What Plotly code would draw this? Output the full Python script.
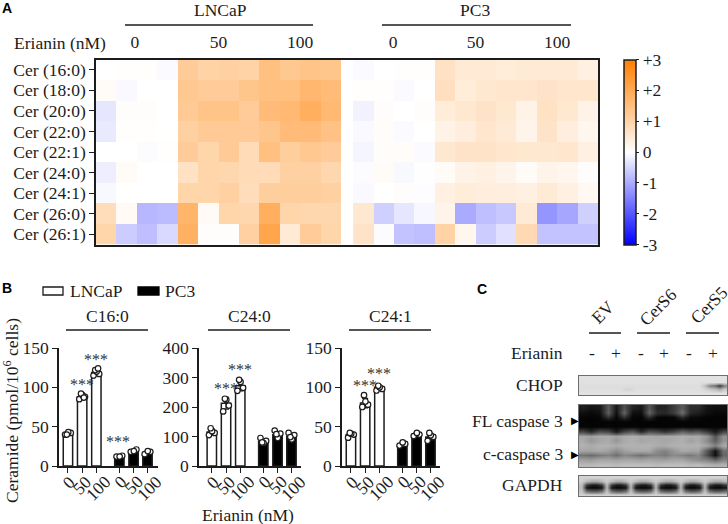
import plotly.graph_objects as go

W, H = 728, 524
SERIF = "Liberation Serif"
SANS = "Liberation Sans"
INK = "#1c1c1c"
FS = 17.5

# ---------- Panel A data ----------
ROWS = ["Cer (16:0)", "Cer (18:0)", "Cer (20:0)", "Cer (22:0)", "Cer (22:1)",
        "Cer (24:0)", "Cer (24:1)", "Cer (26:0)", "Cer (26:1)"]
LNCAP = [
    [0, 0.02, 0.02, -0.05, 1.2, 1.05, 1.1, 1.05, 1.5, 1.3, 1.4, 1.35],
    [0.08, -0.07, 0, 0, 1.3, 1.2, 1.2, 1.35, 1.5, 1.5, 1.7, 1.6],
    [-0.3, 0.05, 0.05, 0, 1.25, 1.4, 1.4, 1.2, 1.6, 1.65, 1.9, 1.65],
    [-0.25, 0.03, 0.02, 0.01, 1.1, 1.25, 1.25, 1.25, 1.35, 1.6, 1.6, 1.45],
    [0, 0, -0.04, 0.03, 1.2, 1.0, 1.25, 0.85, 1.5, 1.15, 1.3, 1.2],
    [-0.2, 0.1, 0, 0, 0.7, 1.0, 0.95, 0.85, 0.85, 1.1, 1.1, 0.95],
    [-0.08, 0.01, 0, 0, 1.0, 1.0, 1.1, 0.8, 1.15, 1.15, 1.15, 1.1],
    [0.8, 0.12, -0.85, -0.8, 1.75, 0.12, 1.0, 0.95, 1.9, 1.0, 0.95, 0.95],
    [1.0, -0.6, -0.75, -0.45, 1.85, 0.05, 0.05, 1.1, 2.1, 0.5, 1.2, 1.0],
]
PC3 = [
    [-0.06, 0, 0.03, 0.02, 0.7, 0.5, 0.5, 0.45, 0.5, 0.5, 0.5, 0.35],
    [0.02, 0.02, -0.06, 0, 0.75, 0.45, 0.55, 0.6, 0.6, 0.65, 0.6, 0.6],
    [-0.15, 0.05, 0, 0.05, 0.45, 0.55, 0.65, 0.55, 0.3, 0.7, 0.55, 0.3],
    [-0.07, 0.07, -0.06, 0, 0.3, 0.4, 0.6, 0.5, 0.25, 0.65, 0.4, 0.2],
    [-0.12, 0.04, 0.07, -0.05, 0.55, 0.65, 0.65, 0.6, 0.55, 0.55, 0.6, 0.35],
    [-0.03, 0.08, -0.08, -0.01, 0.1, 0.3, 0.35, 0.25, 0.1, 0.25, 0.2, 0.05],
    [-0.07, 0, 0.04, -0.02, 0.35, 0.45, 0.4, 0.4, 0.35, 0.5, 0.35, 0.15],
    [0.55, -0.55, -0.3, -0.1, 0.25, -1.0, -0.75, -0.65, 0.5, -1.25, -1.05, -0.55],
    [0.65, -0.03, -0.7, -0.75, 1.05, 0.2, -0.6, -0.35, 0.9, -0.7, -0.7, -0.7],
]
DOSES = ["0", "50", "100"]
COLORBAR_TICKS = [3, 2, 1, 0, -1, -2, -3]
COLORBAR_LABELS = ["+3", "+2", "+1", "0", "-1", "-2", "-3"]

# ---------- Panel B data ----------
C16_POINTS = [[40, 42, 43, 40], [85, 88, 90, 92, 87], [115, 117, 120, 122, 124],
              [12, 13, 12], [18, 21, 19], [15, 18, 19]]
C16_BARS = [41, 88, 119, 13, 19, 17]
C16_ERR = [2, 3, 4, 1, 2, 2]
C240_POINTS = [[105, 112, 118, 128], [185, 205, 225, 228], [255, 265, 285, 292],
               [95, 85, 78, 80], [120, 110, 95, 108], [112, 105, 90, 98]]
C240_BARS = [115, 213, 272, 82, 106, 100]
C240_ERR = [10, 20, 17, 8, 10, 9]
C241_POINTS = [[36, 40, 41, 42], [75, 78, 82, 90], [96, 98, 100, 102],
               [26, 28, 30], [38, 40, 42], [32, 37, 39, 42]]
C241_BARS = [40, 80, 100, 27, 40, 37]
C241_ERR = [2, 6, 2, 2, 2, 4]
BAR_POS = [0, 1, 2, 3.62, 4.62, 5.6]
BAR_LABELS = ["0", "50", "100", "0", "50", "100"]
JITTER = [-0.2, 0.2, 0.02, -0.08, 0.12]

# ---------- Panel C data (grey levels read from the blot) ----------
BG = 222
CHOP_BLOT = [
    [226] * 30,
    [224] * 30,
    [BG] * 25 + [190, 130, 110, 50, 130],
    [222] * 9 + [212, 214] + [222] * 14 + [215, 200, 190, 170, 200],
    [226] * 30,
]
CASP_BLOT = [
    [30, 20, 25, 90, 25, 80, 35, 25, 85, 35, 35, 60, 90, 45, 45, 20, 15, 15],
    [15, 10, 15, 95, 15, 100, 15, 15, 100, 45, 40, 60, 110, 40, 30, 15, 8, 8],
    [6, 4, 6, 50, 6, 50, 6, 4, 45, 6, 4, 6, 45, 10, 10, 4, 4, 4],
    [4] * 18,
    [6, 4, 4, 6, 4, 4, 6, 4, 4, 4, 4, 4, 6, 4, 4, 4, 4, 4],
    [70, 40, 80, 70, 25, 70, 90, 40, 80, 70, 50, 70, 100, 80, 90, 60, 25, 70],
    [165, 160, 170, 170, 160, 170, 175, 170, 170, 165, 170, 170, 175, 170, 170, 150, 85, 145],
    [170, 150, 165, 170, 150, 170, 175, 165, 170, 170, 165, 170, 175, 160, 170, 140, 95, 145],
    [178, 172, 178, 178, 172, 178, 178, 178, 178, 172, 172, 178, 178, 178, 178, 165, 130, 170],
    [165, 165, 170, 160, 140, 160, 170, 170, 170, 140, 130, 150, 170, 165, 165, 90, 20, 110],
    [115, 105, 120, 130, 110, 135, 125, 110, 125, 130, 120, 140, 130, 120, 135, 80, 15, 100],
    [160, 155, 165, 165, 160, 165, 165, 160, 165, 160, 160, 165, 165, 150, 140, 130, 100, 130],
    [185, 185, 190, 190, 185, 190, 190, 190, 190, 185, 190, 190, 190, 185, 190, 180, 175, 180],
]
GAPDH_BLOT = [
    [210] * 30,
    [205, 185, 170, 170, 185] * 6,
    [190, 60, 30, 30, 60] * 6,
    [185, 20, 8, 8, 20] * 6,
    [195, 110, 90, 90, 110] * 6,
    [210] * 30,
]
LANE_SIGNS = ["-", "+", "-", "+", "-", "+"]
LANE_PX = [592, 616, 641, 664, 689, 713]
CONSTRUCTS = ["EV", "CerS6", "CerS5"]


def fx(p): return p / W
def fy(p): return 1 - p / H


fig = go.Figure()
annotations, shapes = [], []


def text(s, x, y, size=FS, anchor="center", angle=0, family=SERIF, color=INK):
    annotations.append(dict(text=s, x=fx(x), y=fy(y), xref="paper", yref="paper",
                            xanchor=anchor, yanchor="middle", showarrow=False,
                            textangle=angle, font=dict(family=family, size=size, color=color)))


def hline(x0, x1, y, width=1.5):
    shapes.append(dict(type="line", xref="paper", yref="paper", x0=fx(x0), x1=fx(x1),
                       y0=fy(y), y1=fy(y), line=dict(color=INK, width=width)))


# ---------- Panel A ----------
LEFT, RIGHT, TOP, BOTTOM = 96, 598, 59.5, 244.5
CELLS = 24.6
GAP_OFFSET = 12.6
fig.add_trace(go.Heatmap(z=LNCAP, x0=0.5, dx=1, y=ROWS, coloraxis="coloraxis",
                         xaxis="x", yaxis="y", hoverongaps=False))
fig.add_trace(go.Heatmap(z=PC3, x0=GAP_OFFSET + 0.5, dx=1, y=ROWS, coloraxis="coloraxis",
                         xaxis="x", yaxis="y", hoverongaps=False))
layout = dict(
    width=W, height=H, margin=dict(l=0, r=0, t=0, b=0, autoexpand=False), paper_bgcolor="white",
    plot_bgcolor="white", showlegend=False, font=dict(family=SERIF, size=FS, color=INK),
    coloraxis=dict(
        cmin=-3, cmax=3,
        colorscale=[[0, "#0000ff"], [0.5, "#ffffff"], [1, "#ff8000"]],
        colorbar=dict(
            x=fx(624), xanchor="left", xpad=0, ypad=0, thickness=12, thicknessmode="pixels",
            len=BOTTOM - TOP, lenmode="pixels", y=fy((TOP + BOTTOM) / 2), yanchor="middle",
            tickvals=COLORBAR_TICKS, ticktext=COLORBAR_LABELS, ticks="outside", ticklen=3,
            tickwidth=1.2, tickcolor=INK, outlinecolor=INK, outlinewidth=1.5,
            tickfont=dict(family=SERIF, size=FS, color=INK)),
    ),
    xaxis=dict(domain=[fx(LEFT), fx(RIGHT)], range=[0, CELLS], side="top", anchor="y",
               tickmode="array",
               tickvals=[1.9, 6.0, 10.0, 14.56, 18.6, 22.6],
               ticktext=DOSES + DOSES, ticks="", showgrid=False, zeroline=False,
               showline=True, mirror=True, linecolor=INK, linewidth=1.5,
               ticklabelstandoff=3, tickfont=dict(family=SERIF, size=FS, color=INK)),
    yaxis=dict(domain=[fy(BOTTOM), fy(TOP)], autorange="reversed", anchor="x", type="category",
               categoryorder="array", categoryarray=ROWS, tickmode="array", tickvals=ROWS, ticktext=ROWS,
               ticks="outside", ticklen=5, tickwidth=1.2,
               tickcolor=INK, showgrid=False, zeroline=False, showline=True, mirror=True,
               linecolor=INK, linewidth=1.5, tickfont=dict(family=SERIF, size=FS, color=INK)),
)
text("<b>A</b>", 7, 8, 14, family=SANS, color="black")
text("LNCaP", 220, 10)
text("PC3", 475, 10)
hline(125, 313, 25)
hline(382, 571, 25)
text("Erianin (nM)", 12, 43, anchor="left")

# ---------- Panel B ----------
PANELS = [
    ("C16:0", C16_POINTS, C16_BARS, C16_ERR, 150, [0, 50, 100, 150], 59, 158, -0.63, 6.34, (66, 148),
     [(1, 105), (2, 137), (3.55, 33)]),
    ("C24:0", C240_POINTS, C240_BARS, C240_ERR, 400, [0, 100, 200, 300, 400], 199, 301, -0.9, 6.27, (208, 290),
     [(1, 265), (2, 330)]),
    ("C24:1", C241_POINTS, C241_BARS, C241_ERR, 150, [0, 50, 100, 150], 342, 440, -0.63, 6.27, (349, 431),
     [(1, 104), (2, 119)]),
]
LABEL_XSHIFT = {"0": 1, "50": 0, "100": 2}
LABEL_Y = {"0": 482, "50": 485, "100": 488}
B_TOP, B_BOTTOM = 348, 466
for i, (name, points, bars, errs, ymax, yticks, x0, x1, r0, r1, title_span, stars) in enumerate(PANELS):
    n = i + 2
    ax, ay = f"x{n}", f"y{n}"
    colors = ["white"] * 3 + ["black"] * 3
    fig.add_trace(go.Bar(x=BAR_POS, y=bars, width=0.66, marker=dict(color=colors, line=dict(color=INK, width=1.5)),
                         error_y=dict(type="data", array=errs, color=INK, thickness=1.2, width=3),
                         xaxis=ax, yaxis=ay))
    for pos, vals in zip(BAR_POS, points):
        fig.add_trace(go.Scatter(
            x=[pos + JITTER[k] for k in range(len(vals))], y=vals, mode="markers",
            marker=dict(size=5.5, color="white", line=dict(color=INK, width=1.2)),
            xaxis=ax, yaxis=ay))
    layout[f"xaxis{n}"] = dict(domain=[fx(x0), fx(x1)], range=[r0, r1], anchor=ay, tickmode="array",
                               tickvals=BAR_POS, showticklabels=False, ticks="outside",
                               ticklen=5, tickwidth=1.2, tickcolor=INK, showgrid=False, zeroline=False,
                               showline=True, linecolor=INK, linewidth=1.5)
    layout[f"yaxis{n}"] = dict(domain=[fy(B_BOTTOM), fy(B_TOP)], range=[0, ymax], anchor=ax, tickmode="array",
                               tickvals=yticks, ticks="outside", ticklen=5, tickwidth=1.2, tickcolor=INK,
                               showgrid=False, zeroline=False, showline=True, linecolor=INK, linewidth=1.5,
                               tickfont=dict(family=SERIF, size=FS, color=INK))
    for pos, lab in zip(BAR_POS, BAR_LABELS):
        annotations.append(dict(text=lab, x=pos, xref=ax, y=fy(LABEL_Y[lab]), yref="paper",
                                xshift=LABEL_XSHIFT[lab], showarrow=False, textangle=-45,
                                xanchor="center", yanchor="middle",
                                font=dict(family=SERIF, size=FS, color=INK)))
    text(name, sum(title_span) / 2, 316)
    hline(title_span[0], title_span[1], 330)
    for sx, sy in stars:
        annotations.append(dict(text="***", x=sx, y=sy, xref=ax, yref=ay, showarrow=False,
                                xanchor="center", yanchor="middle", yshift=-1,
                                font=dict(family=SERIF, size=16, color="#333333")))

text("<b>B</b>", 7, 288, 14, family=SANS, color="black")
shapes.append(dict(type="rect", xref="paper", yref="paper", x0=fx(43), x1=fx(63), y0=fy(295), y1=fy(287),
                   line=dict(color=INK, width=1.3), fillcolor="white"))
shapes.append(dict(type="rect", xref="paper", yref="paper", x0=fx(138), x1=fx(159), y0=fy(295), y1=fy(287),
                   line=dict(color="black", width=1.3), fillcolor="black"))
text("LNCaP", 68, 291, anchor="left")
text("PC3", 163, 291, anchor="left")
text("Ceramide (pmol/10<sup>6</sup> cells)", 11, 411, angle=-90)
text("Erianin (nM)", 248, 515)

# ---------- Panel C ----------
text("<b>C</b>", 482, 289, 14, family=SANS, color="black")
BLOTS = [(CHOP_BLOT, 376, 395), (CASP_BLOT, 405, 467), (GAPDH_BLOT, 476, 496)]
for j, (blot, y0, y1) in enumerate(BLOTS):
    n = j + 5
    cols, rws = len(blot[0]), len(blot)
    fig.add_trace(go.Heatmap(z=blot, zmin=0, zmax=255, zsmooth="best", showscale=False,
                             colorscale=[[0, "#000000"], [1, "#ffffff"]],
                             xaxis=f"x{n}", yaxis=f"y{n}"))
    layout[f"xaxis{n}"] = dict(domain=[fx(579), fx(727)], range=[-0.5, cols - 0.5], anchor=f"y{n}",
                               showticklabels=False, ticks="", showgrid=False, zeroline=False,
                               showline=True, mirror=True, linecolor="#6e6e6e", linewidth=1.2)
    layout[f"yaxis{n}"] = dict(domain=[fy(y1), fy(y0)], range=[rws - 0.5, -0.5], anchor=f"x{n}",
                               showticklabels=False, ticks="", showgrid=False, zeroline=False,
                               showline=True, mirror=True, linecolor="#6e6e6e", linewidth=1.2)

text("Erianin", 565, 353, anchor="right")
text("CHOP", 565, 385, anchor="right")
text("FL caspase 3", 565, 421, anchor="right")
text("c-caspase 3", 565, 454, anchor="right")
text("GAPDH", 565, 485, anchor="right")
text("\u25b6", 575, 420, 10, color="black")
text("\u25b6", 575, 454, 10, color="black")
for sign, px in zip(LANE_SIGNS, LANE_PX):
    text(sign, px, 353, FS)
for name, cx, cy, span in zip(CONSTRUCTS, [603, 658, 709], [312, 307, 305], [(589, 621), (637, 670), (686, 719)]):
    text(name, cx, cy, angle=-45)
    hline(span[0], span[1], 333)

layout["annotations"] = annotations
layout["shapes"] = shapes
fig.update_layout(**layout)
fig.write_html("out.html", config={"displayModeBar": False},
               post_script="document.body.style.margin='0';")
